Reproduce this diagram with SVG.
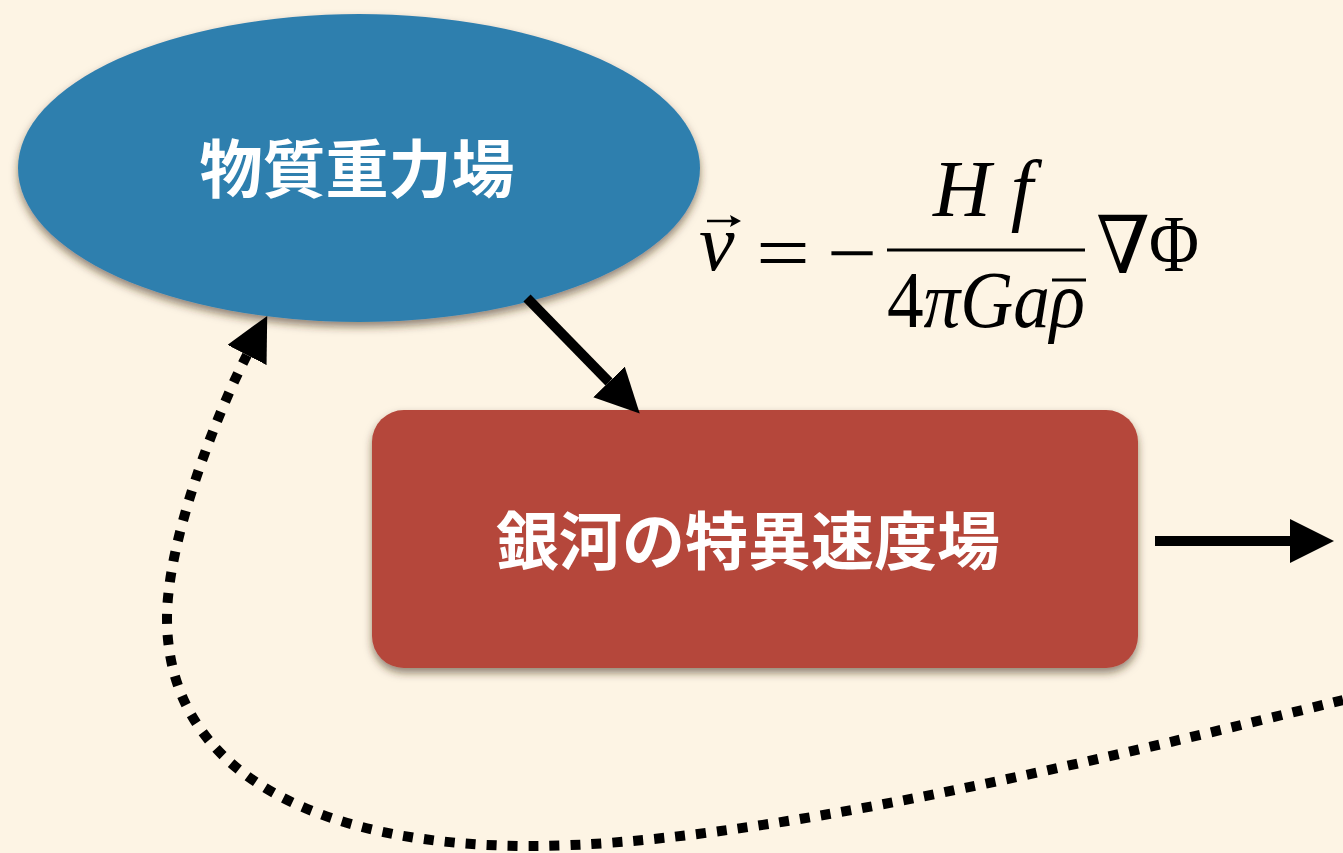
<svg xmlns="http://www.w3.org/2000/svg" width="1343" height="853" viewBox="0 0 1343 853">
  <style>
    .label { font-family: "Noto Sans CJK JP", "Noto Sans", sans-serif; font-weight: 700; font-size: 63px; fill: #ffffff; text-anchor: middle; }
    .math { font-family: "Liberation Serif", "DejaVu Serif", serif; font-size: 80px; fill: #000000; }
    .it { font-style: italic; }
    .conn { fill: none; stroke: #000000; stroke-width: 10; }
    .dotted { stroke-dasharray: 10 11; }
  </style>
  <defs>
    <filter id="shadow" x="-10%" y="-10%" width="120%" height="130%">
      <feDropShadow dx="0" dy="5" stdDeviation="4" flood-color="#3a2a10" flood-opacity="0.55"/>
    </filter>
    <marker id="head" viewBox="0 0 44 44" refX="0" refY="22" markerWidth="44" markerHeight="44" markerUnits="userSpaceOnUse" orient="auto">
      <path d="M0,0 L44,22 L0,44 Z" fill="#000000"/>
    </marker>
  </defs>

  <rect x="0" y="0" width="1343" height="853" fill="#fdf4e4"/>

  <g id="node-matter-gravity">
    <ellipse cx="359" cy="168" rx="341" ry="154" fill="#2f7fae" filter="url(#shadow)"/>
    <text class="label" x="357" y="192">物質重力場</text>
  </g>

  <g id="node-peculiar-velocity">
    <rect x="372" y="410" width="766" height="258" rx="32" ry="32" fill="#b5463a" filter="url(#shadow)"/>
    <text class="label" x="748" y="564">銀河の特異速度場</text>
  </g>

  <g id="formula">
    <text class="math it" x="699" y="270">v</text>
    <path d="M707,221 L733,221" stroke="#000" stroke-width="2.5"/>
    <path d="M741,221 L730,215 L732,221 L730,227 Z" fill="#000"/>
    <text class="math" x="756" y="280" textLength="54" lengthAdjust="spacingAndGlyphs">=</text>
    <text class="math" x="827" y="280" textLength="50" lengthAdjust="spacingAndGlyphs">−</text>
    <text class="math it" x="933" y="216" font-size="82" textLength="100" lengthAdjust="spacing">Hf</text>
    <line x1="887" y1="250" x2="1085" y2="250" stroke="#000" stroke-width="3"/>
    <text class="math" x="887" y="327" font-size="86" textLength="198" lengthAdjust="spacingAndGlyphs">4<tspan class="it">πGaρ</tspan></text>
    <line x1="1052" y1="280" x2="1086" y2="280" stroke="#000" stroke-width="3"/>
    <text class="math" x="1096" y="273" font-family="DejaVu Serif, serif" font-size="70" textLength="54" lengthAdjust="spacingAndGlyphs">∇</text>
    <text class="math" x="1149" y="271" font-size="76" textLength="50" lengthAdjust="spacingAndGlyphs">Φ</text>
  </g>

  <g id="connectors">
    <path class="conn" d="M527,298 L609,382" marker-end="url(#head)"/>
    <path class="conn" d="M1155,541 L1290,541" marker-end="url(#head)"/>
    <path class="conn dotted" d="M1343,700 C1100,760 750,846 530,846 C330,846 167,780 167,618 C167,540 217,413 247,355" marker-end="url(#head)"/>
  </g>
</svg>
